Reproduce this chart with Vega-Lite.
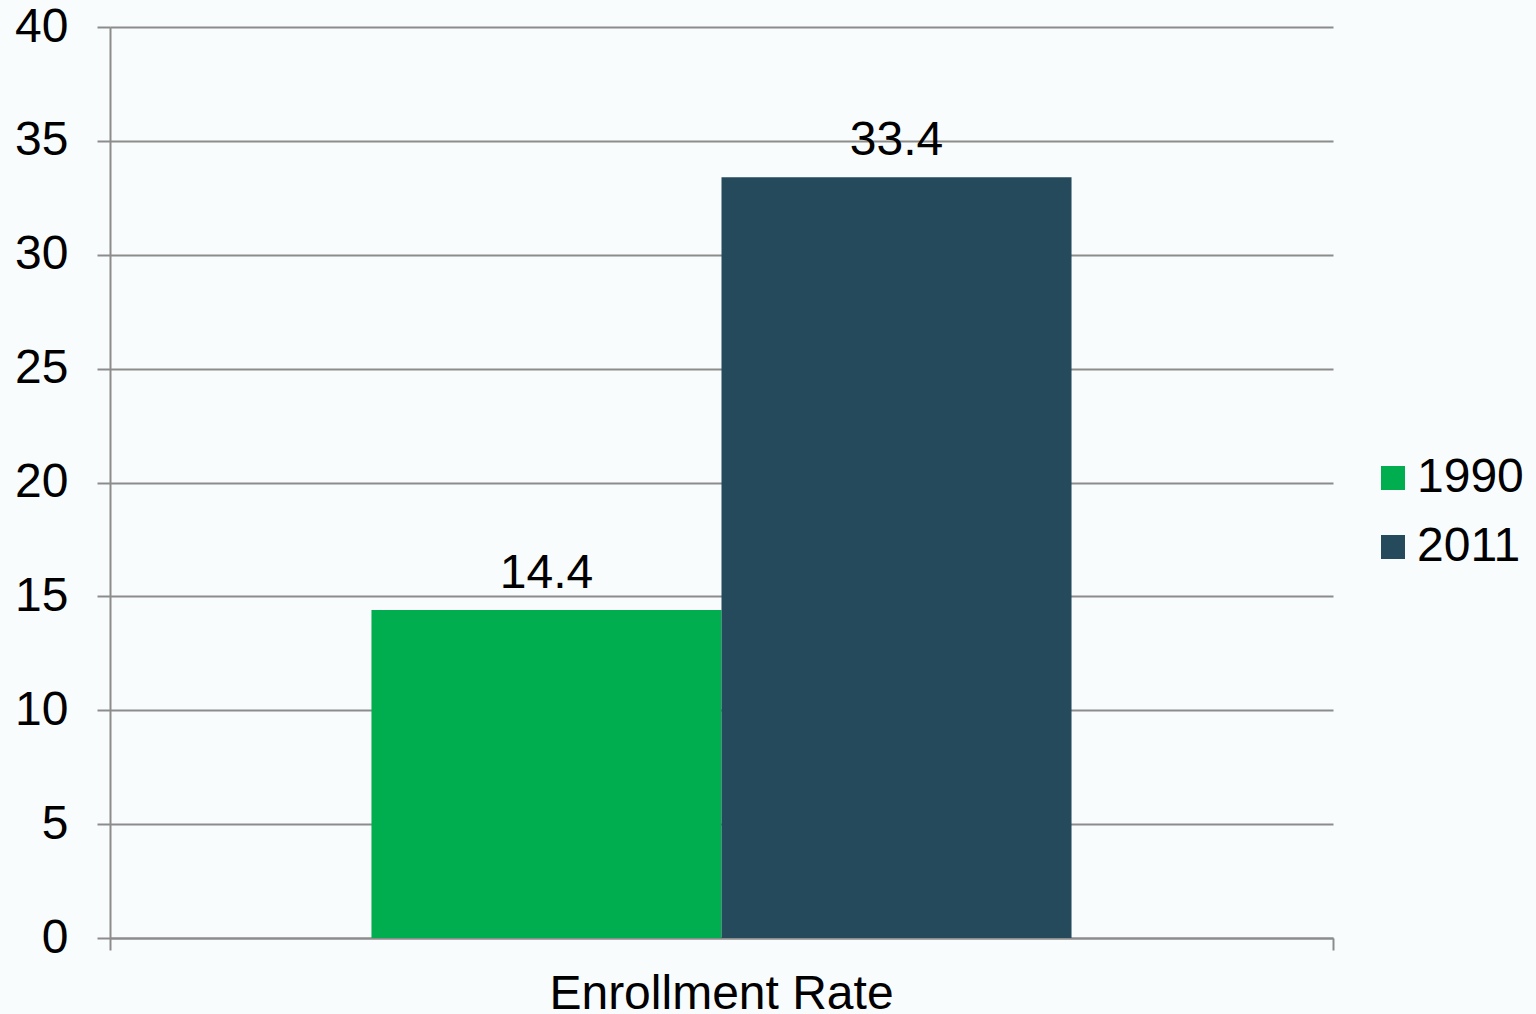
{
  "$schema": "https://vega.github.io/schema/vega-lite/v6.json",
  "autosize": "none",
  "width": 1223,
  "height": 911,
  "padding": {"left": 110, "top": 27, "right": 203, "bottom": 76},
  "background": "#f8fcfd",
  "config": {
    "view": {"stroke": null},
    "font": "Liberation Sans"
  },
  "data": {
    "values": [
      {"category": "Enrollment Rate", "year": "1990", "value": 14.4},
      {"category": "Enrollment Rate", "year": "2011", "value": 33.4}
    ]
  },
  "encoding": {
    "x": {
      "field": "category",
      "type": "nominal",
      "scale": {"paddingInner": 0, "paddingOuter": 0},
      "axis": {
        "title": null,
        "labelAngle": 0,
        "labelFontSize": 48,
        "labelLimit": 0,
        "labelColor": "#000000",
        "labelPadding": 20,
        "domainColor": "#8c8c8c",
        "domainWidth": 2,
        "tickColor": "#8c8c8c",
        "tickWidth": 2,
        "tickSize": 12,
        "bandPosition": 1,
        "tickExtra": true
      }
    },
    "xOffset": {
      "field": "year",
      "type": "nominal",
      "scale": {"paddingInner": 0, "paddingOuter": 0.747}
    }
  },
  "layer": [
    {
      "mark": {"type": "bar"},
      "encoding": {
        "y": {
          "field": "value",
          "type": "quantitative",
          "scale": {"domain": [0, 40], "nice": false},
          "axis": {
            "title": null,
            "values": [0, 5, 10, 15, 20, 25, 30, 35, 40],
            "labelFontSize": 48,
            "labelColor": "#000000",
            "labelPadding": 29,
            "domainColor": "#8c8c8c",
            "domainWidth": 2,
            "tickColor": "#8c8c8c",
            "tickWidth": 2,
            "tickSize": 13,
            "gridColor": "#8c8c8c",
            "gridWidth": 2,
            "grid": true
          }
        },
        "color": {
          "field": "year",
          "type": "nominal",
          "scale": {"domain": ["1990", "2011"], "range": ["#00ad4f", "#244a5b"]},
          "legend": {
            "title": null,
            "orient": "none",
            "legendX": 1259,
            "legendY": 427,
            "symbolType": "square",
            "symbolSize": 576,
            "symbolStrokeWidth": 0,
            "labelFontSize": 48,
            "labelColor": "#000000",
            "labelOffset": 0,
            "rowPadding": 21
          }
        }
      }
    },
    {
      "mark": {"type": "text", "fontSize": 48, "color": "#000000", "baseline": "alphabetic", "dy": -22},
      "encoding": {
        "y": {"field": "value", "type": "quantitative"},
        "text": {"field": "value", "type": "quantitative", "format": ".1f"}
      }
    }
  ]
}
